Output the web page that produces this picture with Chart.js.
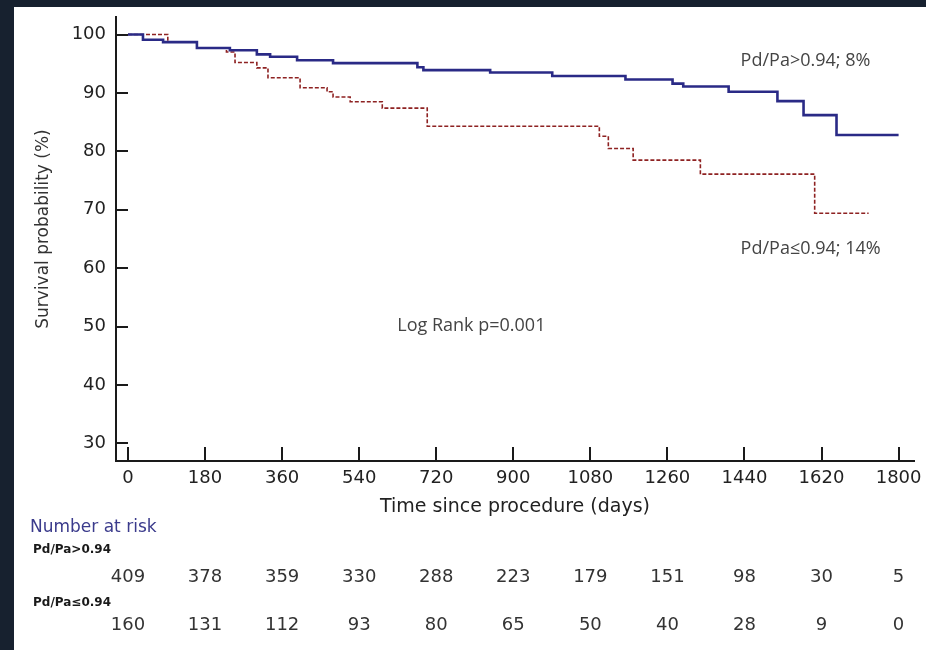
<!DOCTYPE html>
<html>
<head>
<meta charset="utf-8">
<script src="https://cdn.jsdelivr.net/npm/chart.js@4.4.1/dist/chart.umd.min.js"></script>
<style>
  html, body { margin: 0; padding: 0; background: #17212f; }
  #panel { position: absolute; left: 14px; top: 7px; width: 912px; height: 643px; background: #fff; }
  #chart { display: block; }
</style>
</head>
<body>
<div id="panel"><canvas id="chart" width="912" height="643"></canvas></div>
<script>
// Kaplan-Meier steps (days, survival %)
const highDays = [0, 35, 82, 161, 238, 301, 332, 395, 479, 676, 690, 846, 991, 1162, 1272, 1297, 1403, 1517, 1578, 1655, 1800];
const highSurv = [100, 99.1, 98.7, 97.7, 97.3, 96.6, 96.2, 95.6, 95.1, 94.4, 93.9, 93.5, 92.9, 92.3, 91.6, 91.1, 90.2, 88.6, 86.2, 82.8, 82.8];

const lowDays = [0, 93, 161, 230, 250, 301, 327, 402, 465, 479, 519, 594, 699, 1101, 1122, 1180, 1337, 1604, 1730];
const lowSurv = [100, 98.7, 97.7, 97.0, 95.2, 94.3, 92.6, 90.9, 90.2, 89.3, 88.5, 87.4, 84.3, 82.6, 80.5, 78.5, 76.1, 69.4, 69.4];

const xTickValues = [0, 180, 360, 540, 720, 900, 1080, 1260, 1440, 1620, 1800];
const yTickValues = [30, 40, 50, 60, 70, 80, 90, 100];

// Number at risk, one entry per x tick
const riskHigh = [409, 378, 359, 330, 288, 223, 179, 151, 98, 30, 5];
const riskLow = [160, 131, 112, 93, 80, 65, 50, 40, 28, 9, 0];

const highLabel = 'Pd/Pa>0.94';
const lowLabel = 'Pd/Pa\u22640.94';

// text placed in data coordinates
const notes = [
    { text: highLabel + '; 8%', x: 1431, y: 95.5 },
    { text: lowLabel + '; 14%', x: 1431, y: 63.3 },
    { text: 'Log Rank p=0.001', x: 629, y: 50.2 }
];

const toPoints = (xs, ys) => xs.map((x, i) => ({ x: x, y: ys[i] }));

const axisFont = { family: 'DejaVu Sans', size: 18 };
const inkColor = '#222';

// inward tick marks, y title, notes and the risk table
const extrasPlugin = {
    id: 'extras',
    afterDraw(chart) {
        const ctx = chart.ctx;
        const xs = chart.scales.x;
        const ys = chart.scales.y;
        const area = chart.chartArea;

        ctx.save();
        ctx.strokeStyle = '#1a1a1a';
        ctx.lineWidth = 2;
        ctx.beginPath();
        yTickValues.forEach(v => {
            const py = Math.round(ys.getPixelForValue(v));
            ctx.moveTo(area.left, py);
            ctx.lineTo(area.left + 12, py);
        });
        xTickValues.forEach(v => {
            const px = Math.round(xs.getPixelForValue(v));
            ctx.moveTo(px, area.bottom);
            ctx.lineTo(px, area.bottom - 14);
        });
        ctx.stroke();

        // y axis title, sits a little above the axis middle
        ctx.save();
        ctx.translate(30, 222);
        ctx.rotate(-Math.PI / 2);
        ctx.fillStyle = '#333';
        ctx.font = '17px "DejaVu Sans"';
        ctx.textAlign = 'center';
        ctx.textBaseline = 'middle';
        ctx.fillText('Survival probability (%)', 0, 0);
        ctx.restore();

        ctx.fillStyle = '#444';
        ctx.font = '18px "Open Sans"';
        ctx.textAlign = 'left';
        ctx.textBaseline = 'middle';
        notes.forEach(n => {
            ctx.fillText(n.text, xs.getPixelForValue(n.x), ys.getPixelForValue(n.y));
        });

        // number at risk
        ctx.fillStyle = '#3b3b8c';
        ctx.font = '17px "DejaVu Sans"';
        ctx.fillText('Number at risk', 16, 521);

        ctx.fillStyle = '#1a1a1a';
        ctx.font = 'bold 12px "DejaVu Sans"';
        ctx.fillText(highLabel, 19, 543);
        ctx.fillText(lowLabel, 19, 596);

        ctx.fillStyle = '#333';
        ctx.font = '18px "DejaVu Sans"';
        ctx.textAlign = 'center';
        xTickValues.forEach((v, i) => {
            const px = xs.getPixelForValue(v);
            ctx.fillText(String(riskHigh[i]), px, 570);
            ctx.fillText(String(riskLow[i]), px, 618);
        });
        ctx.restore();
    }
};

new Chart(document.getElementById('chart'), {
    type: 'line',
    data: {
        datasets: [
            {
                label: highLabel,
                data: toPoints(highDays, highSurv),
                borderColor: '#2a2a86',
                borderWidth: 2.6,
                stepped: 'before',
                pointRadius: 0,
                fill: false
            },
            {
                label: lowLabel,
                data: toPoints(lowDays, lowSurv),
                borderColor: '#8e2222',
                borderWidth: 1.6,
                borderDash: [4, 2],
                stepped: 'before',
                pointRadius: 0,
                fill: false
            }
        ]
    },
    options: {
        responsive: false,
        animation: false,
        devicePixelRatio: 1,
        layout: { padding: { left: 0, top: 10, right: 12, bottom: 132 } },
        plugins: { legend: { display: false }, tooltip: { enabled: false } },
        scales: {
            x: {
                type: 'linear',
                min: -28,
                max: 1836,
                afterBuildTicks: scale => { scale.ticks = xTickValues.map(v => ({ value: v })); },
                afterFit: scale => {
                    scale.height = 57;
                    scale.paddingLeft = 0;
                    scale.paddingRight = 0;
                },
                grid: { display: false, drawTicks: false },
                border: { display: true, color: '#1a1a1a', width: 2 },
                ticks: { font: axisFont, color: inkColor, padding: 7, maxRotation: 0, callback: v => String(v) },
                title: {
                    display: true,
                    text: 'Time since procedure (days)',
                    font: { family: 'DejaVu Sans', size: 19 },
                    color: inkColor,
                    padding: { top: 0, bottom: 0 }
                }
            },
            y: {
                type: 'linear',
                min: 27,
                max: 103,
                afterBuildTicks: scale => { scale.ticks = yTickValues.map(v => ({ value: v })); },
                afterFit: scale => {
                    scale.width = 102;
                    scale.paddingTop = 0;
                    scale.paddingBottom = 0;
                },
                grid: { display: false, drawTicks: false },
                border: { display: true, color: '#1a1a1a', width: 2 },
                ticks: { font: axisFont, color: inkColor, padding: 10, callback: v => String(v) },
                title: { display: false }
            }
        }
    },
    plugins: [extrasPlugin]
});
</script>
</body>
</html>
